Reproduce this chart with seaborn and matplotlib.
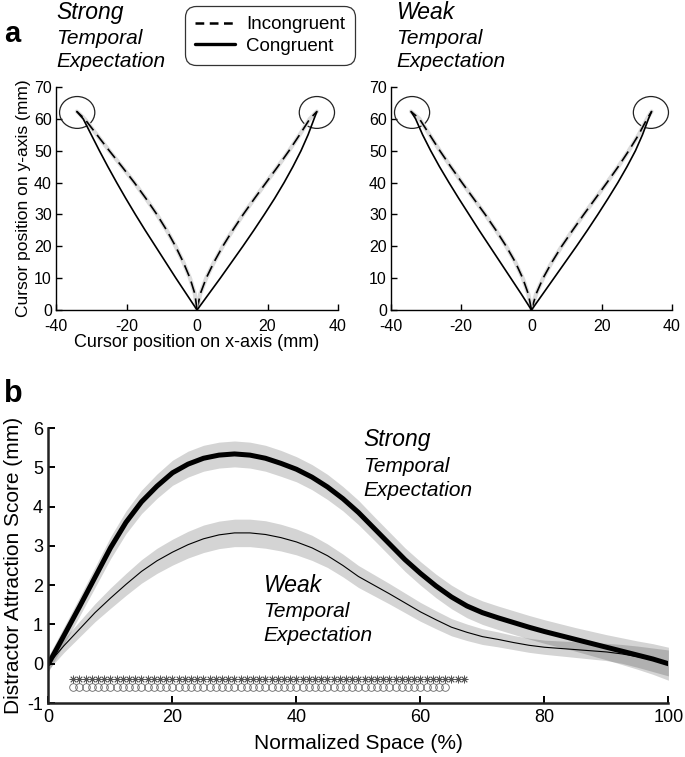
import numpy as np
import pandas as pd
import matplotlib
matplotlib.use("Agg")
import matplotlib.pyplot as plt
from matplotlib.patches import Circle
from matplotlib.lines import Line2D
import seaborn as sns

# ---- panel a: mean cursor trajectories (mm) ----
traj_y = [0, 5, 10, 15, 20, 25, 30, 35, 40, 45, 50, 55, 60, 62.3]

strong_cong_right = [0, 3.3, 6.6, 9.8, 13.0, 16.1, 19.1, 22.0, 24.7, 27.2, 29.5, 31.5, 33.2, 34.0]
strong_incong_right = [0, 0.9, 2.6, 4.8, 7.3, 10.1, 13.1, 16.3, 19.6, 22.9, 26.1, 29.1, 32.0, 34.0]
strong_cong_left = [0, -3.0, -6.0, -8.9, -11.8, -14.7, -17.5, -20.2, -22.8, -25.3, -27.7, -30.0, -32.3, -34.1]
strong_incong_left = [0, -0.6, -2.0, -3.9, -6.1, -8.6, -11.4, -14.5, -17.8, -21.3, -24.9, -28.4, -31.9, -34.1]

weak_cong_right = [0, 3.2, 6.4, 9.6, 12.8, 15.9, 18.9, 21.8, 24.6, 27.2, 29.6, 31.6, 33.3, 34.2]
weak_incong_right = [0, 1.3, 3.3, 5.8, 8.6, 11.7, 14.9, 18.2, 21.5, 24.7, 27.7, 30.5, 32.9, 34.2]
weak_cong_left = [0, -2.9, -5.9, -8.9, -11.9, -14.9, -17.8, -20.7, -23.5, -26.2, -28.7, -31.0, -33.0, -34.3]
weak_incong_left = [0, -0.9, -2.5, -4.6, -7.2, -10.1, -13.2, -16.5, -19.8, -23.0, -26.1, -29.0, -31.9, -34.3]

target_x = [-34, 34]
target_y = [62, 62]
target_r = 5

# ---- panel b: distractor attraction score (mm) ----
space = [0, 2.5, 5, 7.5, 10, 12.5, 15, 17.5, 20, 22.5, 25, 27.5, 30, 32.5, 35, 37.5, 40,
         42.5, 45, 47.5, 50, 52.5, 55, 57.5, 60, 62.5, 65, 67.5, 70, 72.5, 75, 77.5, 80,
         82.5, 85, 87.5, 90, 92.5, 95, 97.5, 100]
strong_score = [0, 0.72, 1.45, 2.2, 2.95, 3.6, 4.12, 4.52, 4.86, 5.08, 5.23, 5.31, 5.34, 5.31,
                5.23, 5.1, 4.95, 4.75, 4.5, 4.2, 3.85, 3.45, 3.05, 2.65, 2.3, 1.98, 1.7, 1.47,
                1.3, 1.17, 1.05, 0.93, 0.82, 0.72, 0.62, 0.52, 0.42, 0.32, 0.22, 0.12, 0.0]
strong_sem = [0.2, 0.22, 0.24, 0.26, 0.28, 0.29, 0.3, 0.31, 0.32, 0.33, 0.33, 0.33, 0.33, 0.33,
              0.33, 0.33, 0.32, 0.32, 0.32, 0.31, 0.31, 0.3, 0.3, 0.3, 0.3, 0.3, 0.3, 0.3,
              0.3, 0.3, 0.3, 0.3, 0.3, 0.3, 0.3, 0.31, 0.32, 0.34, 0.36, 0.39, 0.42]
weak_score = [0, 0.46, 0.88, 1.3, 1.67, 2.02, 2.35, 2.62, 2.84, 3.03, 3.18, 3.28, 3.33, 3.33,
              3.29, 3.21, 3.1, 2.95, 2.75, 2.5, 2.22, 2.0, 1.78, 1.55, 1.32, 1.12, 0.93, 0.8,
              0.69, 0.62, 0.54, 0.47, 0.42, 0.39, 0.36, 0.33, 0.3, 0.25, 0.18, 0.1, 0.02]
weak_sem = [0.15, 0.17, 0.2, 0.23, 0.26, 0.28, 0.3, 0.32, 0.33, 0.34, 0.35, 0.35, 0.35, 0.35,
            0.35, 0.34, 0.33, 0.32, 0.3, 0.29, 0.28, 0.27, 0.26, 0.25, 0.24, 0.23, 0.22, 0.21,
            0.2, 0.19, 0.18, 0.18, 0.18, 0.19, 0.2, 0.21, 0.22, 0.24, 0.27, 0.3, 0.33]

# significant sample points (normalized space %)
sig_star_range = (4, 67)
sig_circle_range = (4, 64)
sig_star_y = -0.4
sig_circle_y = -0.6

sns.set_style("ticks")
plt.rcParams['font.family'] = ['Liberation Sans', 'DejaVu Sans']
plt.rcParams.update({
    'axes.linewidth': 1.0,
    'xtick.direction': 'in',
    'ytick.direction': 'in',
    'text.color': 'black',
    'axes.labelcolor': 'black',
    'axes.edgecolor': 'black',
    'xtick.color': 'black',
    'ytick.color': 'black',
    'axes.unicode_minus': False,
})

fig = plt.figure(figsize=(6.85, 7.57), dpi=100)

ax_s = fig.add_axes([0.0818, 0.5905, 0.4117, 0.2946])
ax_w = fig.add_axes([0.5708, 0.5905, 0.4102, 0.2946])


def draw_traj(ax, cong_r, incong_r, cong_l, incong_l):
    for xs in (incong_r, incong_l):
        sns.lineplot(x=xs, y=traj_y, sort=False, estimator=None, color='#dcdcdc',
                     linewidth=3.0, ax=ax)
        sns.lineplot(x=xs, y=traj_y, sort=False, estimator=None, color='black',
                     linewidth=1.2, ax=ax).lines[-1].set_dashes([7, 3.5])
    for xs in (cong_r, cong_l):
        sns.lineplot(x=xs, y=traj_y, sort=False, estimator=None, color='black',
                     linewidth=1.2, ax=ax)
    for cx, cy in zip(target_x, target_y):
        ax.add_patch(Circle((cx, cy), target_r, fill=False, edgecolor='#222222', linewidth=0.9))
    ax.set_xlim(-40, 40)
    ax.set_ylim(0, 70)
    ax.set_xticks([-40, -20, 0, 20, 40])
    ax.set_yticks(range(0, 71, 10))
    ax.tick_params(axis='y', labelsize=11.5, length=4, width=1, pad=3)
    ax.tick_params(axis='x', labelsize=11.5, length=4, width=1, pad=6.5)
    sns.despine(ax=ax)


draw_traj(ax_s, strong_cong_right, strong_incong_right, strong_cong_left, strong_incong_left)
draw_traj(ax_w, weak_cong_right, weak_incong_right, weak_cong_left, weak_incong_left)
ax_s.set_xlabel('Cursor position on x-axis (mm)', fontsize=13, labelpad=0)
ax_s.set_ylabel('Cursor position on y-axis (mm)', fontsize=12.5, labelpad=2)
ax_w.set_xlabel('')
ax_w.set_ylabel('')

handles = [Line2D([], [], color='black', linewidth=1.8, dashes=[3.5, 2.2]),
           Line2D([], [], color='black', linewidth=2.4)]
leg = fig.legend(handles, ['Incongruent', 'Congruent'], loc='upper left',
                 bbox_to_anchor=(0.262, 1.0), fontsize=13.5, handlelength=2.1,
                 handletextpad=0.6, borderpad=0.35, labelspacing=0.25,
                 fancybox=True, frameon=True)
leg.get_frame().set_edgecolor('black')
leg.get_frame().set_linewidth(0.9)
leg.get_frame().set_boxstyle('round,pad=0.2,rounding_size=0.6')

# ---- panel b ----
ax_b = fig.add_axes([0.0708, 0.0713, 0.905, 0.3633])
df = pd.DataFrame({'space': space, 'strong': strong_score, 'weak': weak_score,
                   'strong_sem': strong_sem, 'weak_sem': weak_sem})
for col in ('strong', 'weak'):
    ax_b.fill_between(df['space'], df[col] - df[col + '_sem'], df[col] + df[col + '_sem'],
                      color='black', alpha=0.17, linewidth=0)
for col, lw in (('strong', 3.6), ('weak', 0.8)):
    sns.lineplot(data=df, x='space', y=col, color='black', linewidth=lw, ax=ax_b)

star_x = list(range(sig_star_range[0], sig_star_range[1] + 1))
circ_x = list(range(sig_circle_range[0], sig_circle_range[1] + 1))
ax_b.plot(star_x, [sig_star_y] * len(star_x), linestyle='none', marker=(8, 2, 0),
          markersize=5.5, markeredgecolor='#555555', markeredgewidth=0.6)
ax_b.plot(circ_x, [sig_circle_y] * len(circ_x), linestyle='none', marker='o',
          markersize=5.5, markerfacecolor='none', markeredgecolor='#666666', markeredgewidth=0.6)

ax_b.set_xlim(0, 100)
ax_b.set_ylim(-1, 6)
ax_b.set_xticks(range(0, 101, 20))
ax_b.set_yticks(range(-1, 7))
ax_b.tick_params(labelsize=13, length=5, width=1.4, pad=4)
for sp in ('left', 'bottom'):
    ax_b.spines[sp].set_linewidth(1.8)
    ax_b.spines[sp].set_color('#222222')
sns.despine(ax=ax_b)
ax_b.set_xlabel('Normalized Space (%)', fontsize=15, labelpad=6)
ax_b.set_ylabel('Distractor Attraction Score (mm)', fontsize=15, labelpad=3)

# ---- annotations ----
fig.text(0.006, 0.9445, 'a', fontsize=21, fontweight='bold')
fig.text(0.006, 0.469, 'b', fontsize=22, fontweight='bold')


def label_block(x, y0, y1, y2, word):
    fig.text(x, y0, word, fontsize=16.5, style='italic')
    fig.text(x, y1, 'Temporal', fontsize=15, style='italic')
    fig.text(x, y2, 'Expectation', fontsize=15, style='italic')


label_block(0.0818, 0.9745, 0.9419, 0.9119, 'Strong')
label_block(0.578, 0.9745, 0.9419, 0.9119, 'Weak')
label_block(0.53, 0.4112, 0.3770, 0.3448, 'Strong')
label_block(0.384, 0.2184, 0.1853, 0.1536, 'Weak')

fig.savefig('out.png', dpi=100)
